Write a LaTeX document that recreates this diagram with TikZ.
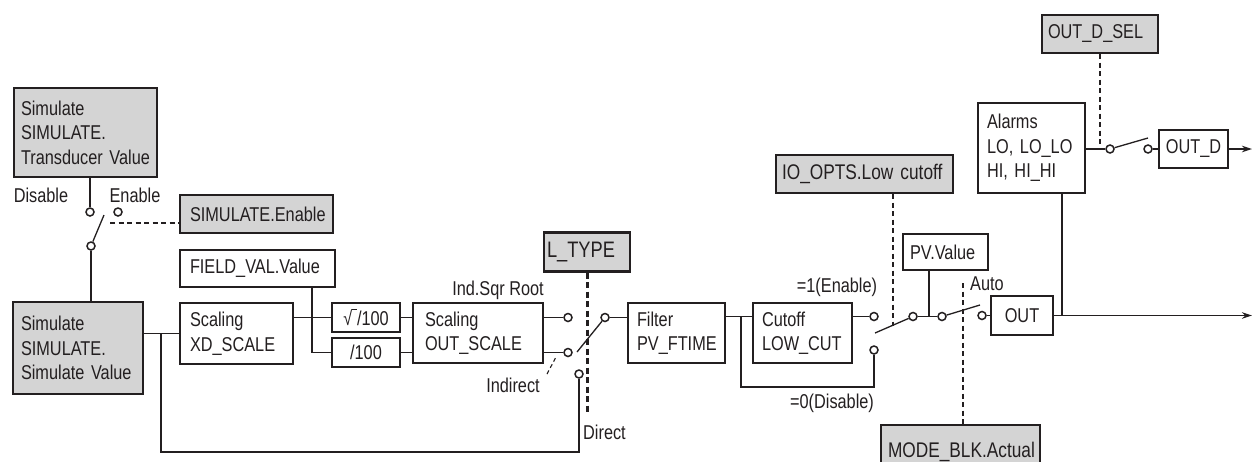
\documentclass[tikz,border=0pt]{standalone}
\usepackage{fontspec}
\setmainfont{Liberation Sans}[FakeStretch=0.815]
\usetikzlibrary{arrows.meta}
\definecolor{boxgray}{RGB}{212,212,212}
\definecolor{ink}{RGB}{35,31,32}
\begin{document}
\begin{tikzpicture}[x=1pt,y=-1pt,
  font=\fontsize{20}{24.5}\selectfont,
  box/.style={draw=ink, line width=2.2pt, inner sep=0pt, align=left, text=ink, fill=white},
  gbox/.style={box, fill=boxgray},
  term/.style={circle, draw=ink, fill=white, line width=1.5pt, minimum size=8pt, inner sep=0pt},
  wire/.style={draw=ink, line width=1.3pt},
  ctrl/.style={draw=ink, line width=1.1pt, dash pattern=on 5pt off 3.5pt},
  lbl/.style={text=ink, inner sep=0pt},
  arr/.style={wire, -{Stealth[length=10pt,width=6.5pt]}}
]
\clip (0,0) rectangle (1252,461);
\fill[white] (0,0) rectangle (1252,461);

% ---- boxes ----
\node[gbox, minimum width=143pt, minimum height=89pt, text width=129pt] (trans) at (85.5,132.5) {Simulate\\SIMULATE.\\Transducer Value};
\node[gbox, minimum width=153pt, minimum height=38pt, text width=133pt] (simen) at (256.5,214) {SIMULATE.Enable};
\node[gbox, minimum width=130pt, minimum height=92pt, text width=114pt] (simval) at (78,348) {Simulate\\SIMULATE.\\Simulate Value};
\node[box, minimum width=155pt, minimum height=37pt, text width=135pt] (field) at (257.5,268.5) {FIELD\_VAL.Value};
\node[box, minimum width=113pt, minimum height=61pt, text width=93pt] (xd) at (236.5,333.5) {Scaling\\XD\_SCALE};
\node[box, align=center, minimum width=68pt, minimum height=29pt] (sqrtb) at (366,317.5) {√\kern-0.7pt\rule[15pt]{5.5pt}{1pt}/100};
\node[box, align=center, minimum width=68pt, minimum height=29pt] (div) at (366,352.5) {/100};
\node[box, minimum width=130pt, minimum height=60pt, text width=106pt] (outsc) at (478,333) {Scaling\\OUT\_SCALE};
\node[gbox, minimum width=86pt, minimum height=39pt, text width=80pt, font=\fontsize{22.4}{26}\selectfont] (ltype) at (587,252) {L\_TYPE};
\node[box, minimum width=97pt, minimum height=60pt, text width=79pt] (filter) at (676.5,333) {Filter\\PV\_FTIME};
\node[box, minimum width=99pt, minimum height=60pt, text width=81pt] (cutoff) at (802.5,333) {Cutoff\\LOW\_CUT};
\node[gbox, minimum width=177pt, minimum height=38pt, text width=165pt, font=\fontsize{21.2}{26}\selectfont] (ioopts) at (864.5,174) {IO\_OPTS.Low cutoff};
\node[box, minimum width=85pt, minimum height=36pt, text width=71pt] (pv) at (945.5,252) {PV.Value};
\node[gbox, minimum width=159pt, minimum height=54pt, text width=145pt, font=\fontsize{21.2}{26}\selectfont] (modeblk) at (960.5,452) {MODE\_BLK.Actual};
\node[box, minimum width=107pt, minimum height=90pt, text width=89pt] (alarms) at (1031.5,148) {Alarms\\LO, LO\_LO\\HI, HI\_HI};
\node[gbox, minimum width=116pt, minimum height=38pt, text width=104pt] (outdsel) at (1100,34) {OUT\_D\_SEL};
\node[box, align=center, minimum width=69pt, minimum height=38pt] (outd) at (1193.5,149) {OUT\_D};
\node[box, align=center, minimum width=62pt, minimum height=39pt] (outb) at (1022,315.5) {OUT};

% ---- terminals ----
\node[term] (cdis) at (90,212) {};
\node[term] (cen) at (118,212) {};
\node[term] (ccom) at (91,246) {};
\node[term] (c4) at (568,317.5) {};
\node[term] (c5) at (568,352.5) {};
\node[term] (cdir) at (579,374) {};
\node[term] (c7) at (605,317.5) {};
\node[term] (c8) at (874,316.5) {};
\node[term] (c9) at (874,350) {};
\node[term] (c10) at (913,316.5) {};
\node[term] (c11) at (942,316.5) {};
\node[term] (c12) at (982,315.5) {};
\node[term] (c13) at (1110,149) {};
\node[term] (c14) at (1148,149) {};

% ---- labels ----
\node[lbl] (ldis) at (41,195) {Disable};
\node[lbl] (len) at (135,195) {Enable};
\node[lbl] (lsqr) at (498,290) {Ind.Sqr Root};
\node[lbl] (lind) at (513,385) {Indirect};
\node[lbl, anchor=west] (ldir) at (583,432) {Direct};
\node[lbl] (len1) at (837,287) {=1(Enable)};
\node[lbl] (ldis0) at (832,403) {=0(Disable)};
\node[lbl] (lauto) at (987,284) {Auto};

% ---- helper coordinates ----
\coordinate (lev1) at (104,215);
\coordinate (sd) at (110,223);
\coordinate (br1) at (161,333.5);
\coordinate (br1b) at (161,452);
\coordinate (fx) at (312,0);
\coordinate (lev2) at (577,352);
\coordinate (ind1) at (547,374);
\coordinate (ind2) at (556,357);
\coordinate (lte) at (587,415);
\coordinate (br2) at (741,316.5);
\coordinate (br2b) at (741,387);
\coordinate (lev3) at (875,333);
\coordinate (ioend) at (893,326);
\coordinate (pvj) at (929,316.5);
\coordinate (lev4) at (980,305);
\coordinate (autot) at (963,283);
\coordinate (outend) at (1252,0);
\coordinate (alj) at (1062,315.5);
\coordinate (lev5) at (1148,138);
\coordinate (dse) at (1100,146);

% ---- connectors ----
\draw[wire] (cdis |- trans.south) -- (cdis);
\draw[wire] (ccom) -- (lev1);
\draw[ctrl] (sd) -- (sd -| simen.west);
\draw[wire] (ccom) -- (ccom |- simval.north);
\draw[wire] (simval.east |- xd.west) -- (xd.west);
\draw[wire] (br1) |- (cdir |- br1b) -- (cdir);
\draw[wire] (xd.east |- sqrtb.west) -- (sqrtb.west);
\draw[wire] (field.south -| fx) |- (div.west);
\draw[wire] (sqrtb.east) -- (sqrtb.east -| outsc.west);
\draw[wire] (div.east) -- (div.east -| outsc.west);
\draw[wire] (c4 -| outsc.east) -- (c4);
\draw[wire] (c5 -| outsc.east) -- (c5);
\draw[wire] (lev2) -- (c7);
\draw[ctrl, dash pattern=on 4pt off 3pt] (ind1) -- (ind2);
\draw[draw=ink, line width=3pt, dash pattern=on 6pt off 3.5pt] (ltype.south) -- (lte);
\draw[wire] (c7) -- (c7 -| filter.west);
\draw[wire] (c8 -| filter.east) -- (c8 -| cutoff.west);
\draw[wire] (c8 -| cutoff.east) -- (c8);
\draw[wire] (br2) |- (c9 |- br2b) -- (c9);
\draw[wire] (lev3) -- (c10);
\draw[ctrl] (ioend |- ioopts.south) -- (ioend);
\draw[wire] (c10) -- (c11);
\draw[wire] (pvj) -- (pvj |- pv.south);
\draw[wire] (c11) -- (lev4);
\draw[ctrl] (autot) -- (autot |- modeblk.north);
\draw[wire] (c12) -- (c12 -| outb.west);
\draw[arr] (outb.east) -- (outb.east -| outend);
\draw[wire] (alj |- alarms.south) -- (alj);
\draw[wire] (alarms.east |- c13) -- (c13);
\draw[wire] (c13) -- (lev5);
\draw[ctrl] (outdsel.south) -- (dse);
\draw[wire] (c14) -- (c14 -| outd.west);
\draw[arr] (outd.east) -- (outd.east -| outend);
\end{tikzpicture}
\end{document}
